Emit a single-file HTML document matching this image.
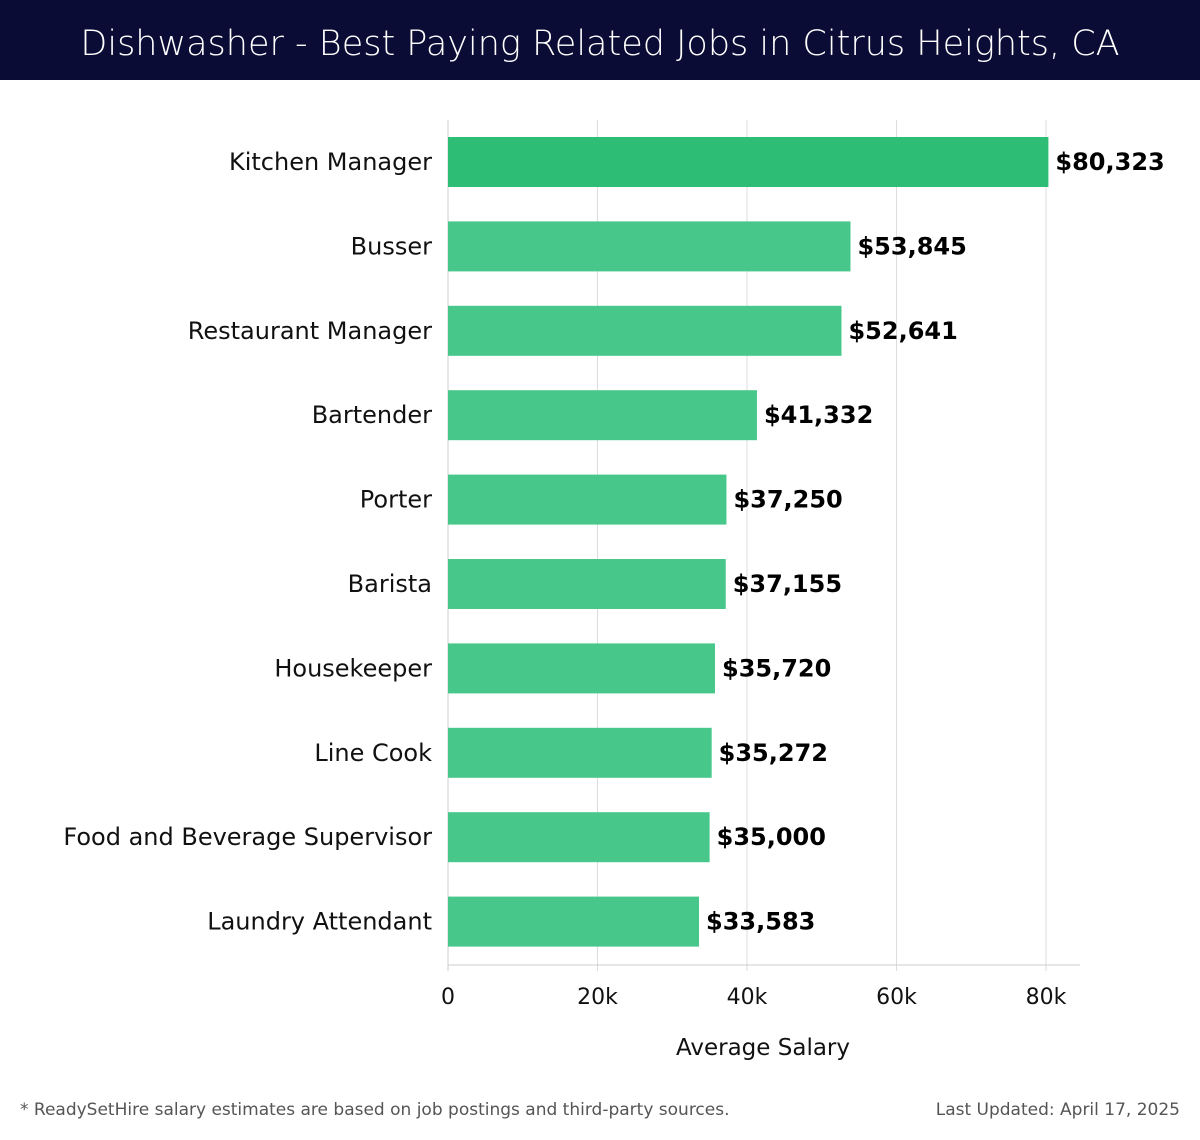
<!DOCTYPE html>
<html><head><meta charset="utf-8"><style>
body{margin:0;width:1200px;height:1140px;background:#fff;font-family:"DejaVu Sans","Liberation Sans",sans-serif;overflow:hidden;position:relative}
#title{position:absolute;left:0;top:0;width:1200px;height:80px;background:#0b0c35;color:#fff;font-size:35px;text-align:center;line-height:88px;font-family:"DejaVu Sans","Liberation Sans",sans-serif;font-weight:300}
.foot{position:absolute;top:1100px;font-size:17px;color:#555}
</style></head><body>
<div id="title">Dishwasher - Best Paying Related Jobs in Citrus Heights, CA</div>
<svg id="chart" width="1200" height="1140" style="position:absolute;left:0;top:0"></svg>
<div class="foot" style="left:20px">* ReadySetHire salary estimates are based on job postings and third-party sources.</div>
<div class="foot" style="right:20px">Last Updated: April 17, 2025</div>
<script>
const categories=["Kitchen Manager","Busser","Restaurant Manager","Bartender","Porter","Barista","Housekeeper","Line Cook","Food and Beverage Supervisor","Laundry Attendant"];
const values=[80323,53845,52641,41332,37250,37155,35720,35272,35000,33583];
const ticks=[0,20000,40000,60000,80000];
const tickLabels=["0","20k","40k","60k","80k"];
const svg=document.getElementById('chart');
const NS='http://www.w3.org/2000/svg';
const x0=448,x1=1046,yTop=120,yBot=965,step=84.4,bh=50;
const xs=v=>x0+(v/80000)*(x1-x0);
const yc=i=>162+i*step;
function mk(t,a){const e=document.createElementNS(NS,t);for(const k in a)e.setAttribute(k,a[k]);svg.appendChild(e);return e;}
ticks.forEach((t,i)=>{
 const g=mk('line',{x1:xs(t),x2:xs(t),y1:yTop,y2:yBot+6,stroke:'#ddd','stroke-width':1});
 
 
 const l=mk('text',{x:xs(t),y:1004,'text-anchor':'middle','font-size':22,fill:'#111'});
 l.textContent=tickLabels[i];
 
 
});
const ax=mk('line',{x1:x0,x2:1080,y1:yBot,y2:yBot,stroke:'#ccc','stroke-width':1});


const ay=mk('line',{x1:x0,x2:x0,y1:yTop,y2:yBot+6,stroke:'#ccc','stroke-width':1});


categories.forEach((c,i)=>{
 const r=mk('rect',{x:x0,y:yc(i)-bh/2,width:xs(values[i])-x0,height:bh,fill:i==0?'#2dbd74':'#48c78b'});
 
 
 const l=mk('text',{x:432,y:yc(i)+8,'text-anchor':'end','font-size':24,fill:'#111'});
 l.textContent=c;
 
 
 const v=mk('text',{x:xs(values[i])+7,y:yc(i)+8,'font-size':24,'font-weight':'bold',fill:'#000'});
 v.textContent='$'+values[i].toLocaleString('en-US');
 
 
});
const t=mk('text',{x:763,y:1055,'text-anchor':'middle','font-size':23,fill:'#111'});
t.textContent='Average Salary';


</script>
</body></html>
